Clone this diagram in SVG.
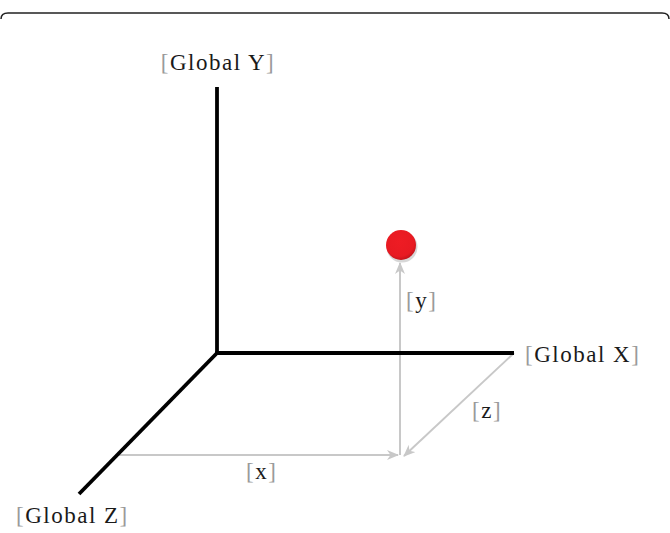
<svg xmlns="http://www.w3.org/2000/svg" width="670" height="533" viewBox="0 0 670 533">
<style>
.axis{stroke:#000;stroke-width:3.8;fill:none;stroke-linecap:butt}
.guide{stroke:#c8c8c8;stroke-width:2;fill:none}
.lbl{font-family:"Liberation Serif","Times New Roman",serif;font-size:23px;fill:#1a1a1a;letter-spacing:1.5px}
.br{fill:#9a9a9a}
</style>
<defs>
<marker id="ah" viewBox="0 0 12 10" refX="11" refY="5" markerWidth="12" markerHeight="10" markerUnits="userSpaceOnUse" orient="auto">
<path d="M0,0 L12,5 L0,10 L3.5,5 Z" fill="#c8c8c8"/>
</marker>
<radialGradient id="rg" cx="0.45" cy="0.4" r="0.6">
<stop offset="0" stop-color="#ee1c24"/>
<stop offset="0.8" stop-color="#e81a22"/>
<stop offset="1" stop-color="#c4141b"/>
</radialGradient>
</defs>
<rect width="670" height="533" fill="#fff"/>
<path d="M1,19 Q1,13 8,13 H662 Q669,13 669,19" fill="none" stroke="#222" stroke-width="1.5"/>
<g id="connectors">
<line class="guide" x1="118" y1="455" x2="398" y2="455" marker-end="url(#ah)"/>
<line class="guide" x1="400" y1="455" x2="400" y2="263" marker-end="url(#ah)"/>
<line class="guide" x1="514" y1="353" x2="404" y2="456" marker-end="url(#ah)"/>
</g>
<g id="axis-y"><line class="axis" x1="217" y1="87" x2="217" y2="355"/></g>
<g id="axis-x"><line class="axis" x1="215.5" y1="353" x2="514" y2="353"/></g>
<g id="axis-z"><line class="axis" x1="218" y1="352" x2="79" y2="494"/></g>
<g id="point"><circle cx="401" cy="246" r="15.5" fill="#b0b0b0" opacity="0.5" transform="translate(1,1)"/><circle cx="401" cy="245" r="15" fill="url(#rg)"/></g>
<g id="label-gy"><text class="lbl" x="218" y="70" text-anchor="middle"><tspan class="br">[</tspan>Global Y<tspan class="br">]</tspan></text></g>
<g id="label-gx"><text class="lbl" x="525" y="362"><tspan class="br">[</tspan>Global X<tspan class="br">]</tspan></text></g>
<g id="label-gz"><text class="lbl" x="16" y="523"><tspan class="br">[</tspan>Global Z<tspan class="br">]</tspan></text></g>
<g id="label-y"><text class="lbl" x="406" y="308"><tspan class="br">[</tspan>y<tspan class="br">]</tspan></text></g>
<g id="label-z"><text class="lbl" x="472" y="418"><tspan class="br">[</tspan>z<tspan class="br">]</tspan></text></g>
<g id="label-x"><text class="lbl" x="246" y="479"><tspan class="br">[</tspan>x<tspan class="br">]</tspan></text></g>
</svg>
